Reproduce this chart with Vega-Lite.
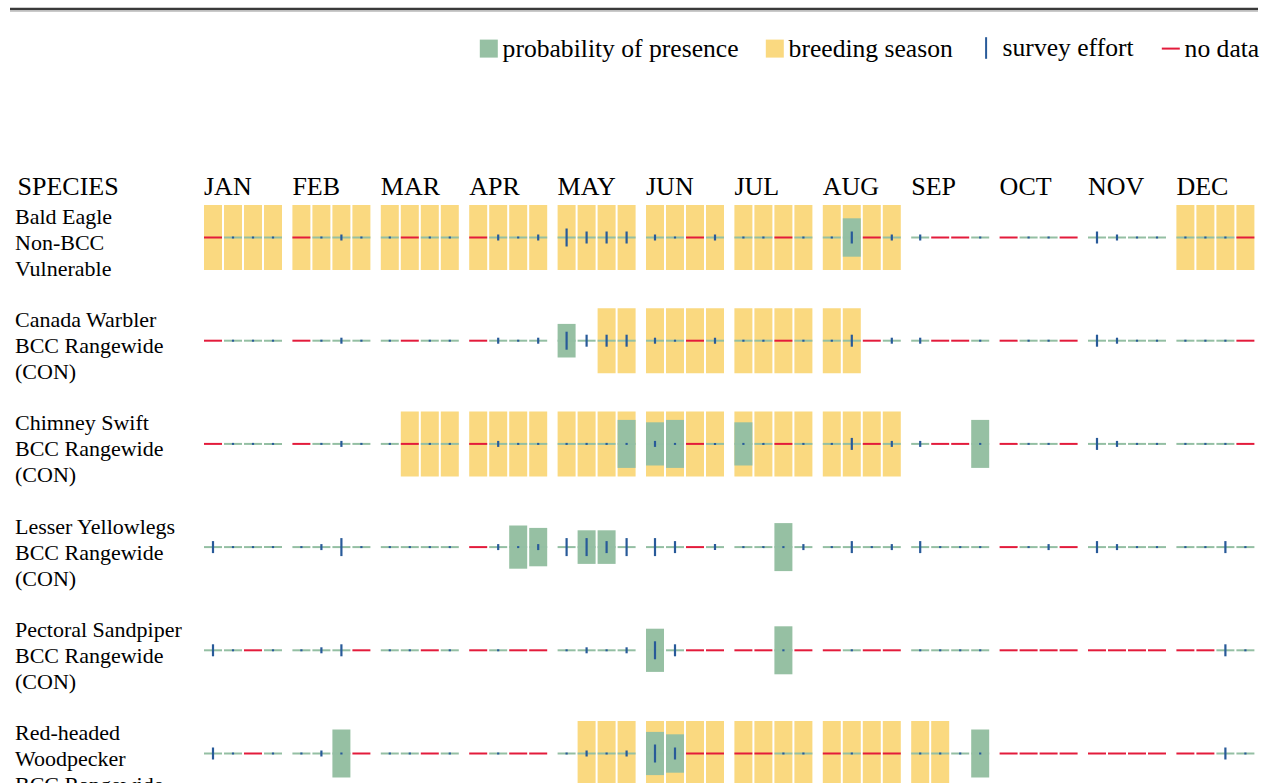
{
  "$schema": "https://vega.github.io/schema/vega-lite/v6.json",
  "background": "white",
  "padding": {"left": 8, "top": 7, "right": 5, "bottom": 0},
  "config": {"view": {"stroke": null}, "font": "Liberation Serif"},
  "spacing": 160,
  "vconcat": [
    {
      "width": 1050.4,
      "height": 4,
      "data": {"values": [{}]},
      "encoding": {
        "x": {"datum": 0, "type": "quantitative", "scale": {"domain": [0, 1], "range": [-194, 1054]}, "axis": null},
        "x2": {"datum": 1},
        "y": {"datum": 1, "type": "quantitative", "scale": {"domain": [0, 1]}, "axis": null}
      },
      "layer": [
        {"mark": {"type": "rule", "color": "#3a3a3a", "strokeWidth": 2.5}},
        {"mark": {"type": "rule", "color": "#b8b8b8", "strokeWidth": 1.5, "yOffset": 2}}
      ]
    },
    {
      "data": {"values": [
        {"sp":"Bald Eagle|Non-BCC|Vulnerable","mo":"JAN","wk":1,"br":1,"nd":1},
        {"sp":"Bald Eagle|Non-BCC|Vulnerable","mo":"JAN","wk":2,"br":1,"ef":1},
        {"sp":"Bald Eagle|Non-BCC|Vulnerable","mo":"JAN","wk":3,"br":1,"ef":1},
        {"sp":"Bald Eagle|Non-BCC|Vulnerable","mo":"JAN","wk":4,"br":1,"ef":1},
        {"sp":"Bald Eagle|Non-BCC|Vulnerable","mo":"FEB","wk":1,"br":1,"nd":1},
        {"sp":"Bald Eagle|Non-BCC|Vulnerable","mo":"FEB","wk":2,"br":1,"ef":1},
        {"sp":"Bald Eagle|Non-BCC|Vulnerable","mo":"FEB","wk":3,"br":1,"ef":3},
        {"sp":"Bald Eagle|Non-BCC|Vulnerable","mo":"FEB","wk":4,"br":1,"ef":1},
        {"sp":"Bald Eagle|Non-BCC|Vulnerable","mo":"MAR","wk":1,"br":1,"ef":1},
        {"sp":"Bald Eagle|Non-BCC|Vulnerable","mo":"MAR","wk":2,"br":1,"nd":1},
        {"sp":"Bald Eagle|Non-BCC|Vulnerable","mo":"MAR","wk":3,"br":1,"ef":1},
        {"sp":"Bald Eagle|Non-BCC|Vulnerable","mo":"MAR","wk":4,"br":1,"ef":1},
        {"sp":"Bald Eagle|Non-BCC|Vulnerable","mo":"APR","wk":1,"br":1,"nd":1},
        {"sp":"Bald Eagle|Non-BCC|Vulnerable","mo":"APR","wk":2,"br":1,"ef":3},
        {"sp":"Bald Eagle|Non-BCC|Vulnerable","mo":"APR","wk":3,"br":1,"ef":1},
        {"sp":"Bald Eagle|Non-BCC|Vulnerable","mo":"APR","wk":4,"br":1,"ef":3},
        {"sp":"Bald Eagle|Non-BCC|Vulnerable","mo":"MAY","wk":1,"br":1,"ef":9},
        {"sp":"Bald Eagle|Non-BCC|Vulnerable","mo":"MAY","wk":2,"br":1,"ef":6},
        {"sp":"Bald Eagle|Non-BCC|Vulnerable","mo":"MAY","wk":3,"br":1,"ef":6},
        {"sp":"Bald Eagle|Non-BCC|Vulnerable","mo":"MAY","wk":4,"br":1,"ef":6},
        {"sp":"Bald Eagle|Non-BCC|Vulnerable","mo":"JUN","wk":1,"br":1,"ef":3},
        {"sp":"Bald Eagle|Non-BCC|Vulnerable","mo":"JUN","wk":2,"br":1,"ef":1},
        {"sp":"Bald Eagle|Non-BCC|Vulnerable","mo":"JUN","wk":3,"br":1,"nd":1},
        {"sp":"Bald Eagle|Non-BCC|Vulnerable","mo":"JUN","wk":4,"br":1,"ef":3},
        {"sp":"Bald Eagle|Non-BCC|Vulnerable","mo":"JUL","wk":1,"br":1,"ef":1},
        {"sp":"Bald Eagle|Non-BCC|Vulnerable","mo":"JUL","wk":2,"br":1,"ef":1},
        {"sp":"Bald Eagle|Non-BCC|Vulnerable","mo":"JUL","wk":3,"br":1,"nd":1},
        {"sp":"Bald Eagle|Non-BCC|Vulnerable","mo":"JUL","wk":4,"br":1,"ef":1},
        {"sp":"Bald Eagle|Non-BCC|Vulnerable","mo":"AUG","wk":1,"br":1,"ef":1},
        {"sp":"Bald Eagle|Non-BCC|Vulnerable","mo":"AUG","wk":2,"br":1,"ef":6,"pr":8},
        {"sp":"Bald Eagle|Non-BCC|Vulnerable","mo":"AUG","wk":3,"br":1,"nd":1},
        {"sp":"Bald Eagle|Non-BCC|Vulnerable","mo":"AUG","wk":4,"br":1,"ef":3},
        {"sp":"Bald Eagle|Non-BCC|Vulnerable","mo":"SEP","wk":1,"ef":3},
        {"sp":"Bald Eagle|Non-BCC|Vulnerable","mo":"SEP","wk":2,"nd":1},
        {"sp":"Bald Eagle|Non-BCC|Vulnerable","mo":"SEP","wk":3,"nd":1},
        {"sp":"Bald Eagle|Non-BCC|Vulnerable","mo":"SEP","wk":4,"ef":1},
        {"sp":"Bald Eagle|Non-BCC|Vulnerable","mo":"OCT","wk":1,"nd":1},
        {"sp":"Bald Eagle|Non-BCC|Vulnerable","mo":"OCT","wk":2,"ef":1},
        {"sp":"Bald Eagle|Non-BCC|Vulnerable","mo":"OCT","wk":3,"ef":1},
        {"sp":"Bald Eagle|Non-BCC|Vulnerable","mo":"OCT","wk":4,"nd":1},
        {"sp":"Bald Eagle|Non-BCC|Vulnerable","mo":"NOV","wk":1,"ef":6},
        {"sp":"Bald Eagle|Non-BCC|Vulnerable","mo":"NOV","wk":2,"ef":3},
        {"sp":"Bald Eagle|Non-BCC|Vulnerable","mo":"NOV","wk":3,"ef":1},
        {"sp":"Bald Eagle|Non-BCC|Vulnerable","mo":"NOV","wk":4,"ef":1},
        {"sp":"Bald Eagle|Non-BCC|Vulnerable","mo":"DEC","wk":1,"br":1,"ef":1},
        {"sp":"Bald Eagle|Non-BCC|Vulnerable","mo":"DEC","wk":2,"br":1,"ef":1},
        {"sp":"Bald Eagle|Non-BCC|Vulnerable","mo":"DEC","wk":3,"br":1,"ef":1},
        {"sp":"Bald Eagle|Non-BCC|Vulnerable","mo":"DEC","wk":4,"br":1,"nd":1},

        {"sp":"Canada Warbler|BCC Rangewide|(CON)","mo":"JAN","wk":1,"nd":1},
        {"sp":"Canada Warbler|BCC Rangewide|(CON)","mo":"JAN","wk":2,"ef":1},
        {"sp":"Canada Warbler|BCC Rangewide|(CON)","mo":"JAN","wk":3,"ef":1},
        {"sp":"Canada Warbler|BCC Rangewide|(CON)","mo":"JAN","wk":4,"ef":1},
        {"sp":"Canada Warbler|BCC Rangewide|(CON)","mo":"FEB","wk":1,"nd":1},
        {"sp":"Canada Warbler|BCC Rangewide|(CON)","mo":"FEB","wk":2,"ef":1},
        {"sp":"Canada Warbler|BCC Rangewide|(CON)","mo":"FEB","wk":3,"ef":3},
        {"sp":"Canada Warbler|BCC Rangewide|(CON)","mo":"FEB","wk":4,"ef":1},
        {"sp":"Canada Warbler|BCC Rangewide|(CON)","mo":"MAR","wk":1,"ef":1},
        {"sp":"Canada Warbler|BCC Rangewide|(CON)","mo":"MAR","wk":2,"nd":1},
        {"sp":"Canada Warbler|BCC Rangewide|(CON)","mo":"MAR","wk":3,"ef":1},
        {"sp":"Canada Warbler|BCC Rangewide|(CON)","mo":"MAR","wk":4,"ef":1},
        {"sp":"Canada Warbler|BCC Rangewide|(CON)","mo":"APR","wk":1,"nd":1},
        {"sp":"Canada Warbler|BCC Rangewide|(CON)","mo":"APR","wk":2,"ef":3},
        {"sp":"Canada Warbler|BCC Rangewide|(CON)","mo":"APR","wk":3,"ef":1},
        {"sp":"Canada Warbler|BCC Rangewide|(CON)","mo":"APR","wk":4,"ef":3},
        {"sp":"Canada Warbler|BCC Rangewide|(CON)","mo":"MAY","wk":1,"ef":9,"pr":7},
        {"sp":"Canada Warbler|BCC Rangewide|(CON)","mo":"MAY","wk":2,"ef":6},
        {"sp":"Canada Warbler|BCC Rangewide|(CON)","mo":"MAY","wk":3,"br":1,"ef":6},
        {"sp":"Canada Warbler|BCC Rangewide|(CON)","mo":"MAY","wk":4,"br":1,"ef":6},
        {"sp":"Canada Warbler|BCC Rangewide|(CON)","mo":"JUN","wk":1,"br":1,"ef":3},
        {"sp":"Canada Warbler|BCC Rangewide|(CON)","mo":"JUN","wk":2,"br":1,"ef":1},
        {"sp":"Canada Warbler|BCC Rangewide|(CON)","mo":"JUN","wk":3,"br":1,"nd":1},
        {"sp":"Canada Warbler|BCC Rangewide|(CON)","mo":"JUN","wk":4,"br":1,"ef":3},
        {"sp":"Canada Warbler|BCC Rangewide|(CON)","mo":"JUL","wk":1,"br":1,"ef":1},
        {"sp":"Canada Warbler|BCC Rangewide|(CON)","mo":"JUL","wk":2,"br":1,"ef":1},
        {"sp":"Canada Warbler|BCC Rangewide|(CON)","mo":"JUL","wk":3,"br":1,"nd":1},
        {"sp":"Canada Warbler|BCC Rangewide|(CON)","mo":"JUL","wk":4,"br":1,"ef":1},
        {"sp":"Canada Warbler|BCC Rangewide|(CON)","mo":"AUG","wk":1,"br":1,"ef":1},
        {"sp":"Canada Warbler|BCC Rangewide|(CON)","mo":"AUG","wk":2,"br":1,"ef":6},
        {"sp":"Canada Warbler|BCC Rangewide|(CON)","mo":"AUG","wk":3,"nd":1},
        {"sp":"Canada Warbler|BCC Rangewide|(CON)","mo":"AUG","wk":4,"ef":3},
        {"sp":"Canada Warbler|BCC Rangewide|(CON)","mo":"SEP","wk":1,"ef":3},
        {"sp":"Canada Warbler|BCC Rangewide|(CON)","mo":"SEP","wk":2,"nd":1},
        {"sp":"Canada Warbler|BCC Rangewide|(CON)","mo":"SEP","wk":3,"nd":1},
        {"sp":"Canada Warbler|BCC Rangewide|(CON)","mo":"SEP","wk":4,"ef":1},
        {"sp":"Canada Warbler|BCC Rangewide|(CON)","mo":"OCT","wk":1,"nd":1},
        {"sp":"Canada Warbler|BCC Rangewide|(CON)","mo":"OCT","wk":2,"ef":1},
        {"sp":"Canada Warbler|BCC Rangewide|(CON)","mo":"OCT","wk":3,"ef":1},
        {"sp":"Canada Warbler|BCC Rangewide|(CON)","mo":"OCT","wk":4,"nd":1},
        {"sp":"Canada Warbler|BCC Rangewide|(CON)","mo":"NOV","wk":1,"ef":6},
        {"sp":"Canada Warbler|BCC Rangewide|(CON)","mo":"NOV","wk":2,"ef":3},
        {"sp":"Canada Warbler|BCC Rangewide|(CON)","mo":"NOV","wk":3,"ef":1},
        {"sp":"Canada Warbler|BCC Rangewide|(CON)","mo":"NOV","wk":4,"ef":1},
        {"sp":"Canada Warbler|BCC Rangewide|(CON)","mo":"DEC","wk":1,"ef":1},
        {"sp":"Canada Warbler|BCC Rangewide|(CON)","mo":"DEC","wk":2,"ef":1},
        {"sp":"Canada Warbler|BCC Rangewide|(CON)","mo":"DEC","wk":3,"ef":1},
        {"sp":"Canada Warbler|BCC Rangewide|(CON)","mo":"DEC","wk":4,"nd":1},

        {"sp":"Chimney Swift|BCC Rangewide|(CON)","mo":"JAN","wk":1,"nd":1},
        {"sp":"Chimney Swift|BCC Rangewide|(CON)","mo":"JAN","wk":2,"ef":1},
        {"sp":"Chimney Swift|BCC Rangewide|(CON)","mo":"JAN","wk":3,"ef":1},
        {"sp":"Chimney Swift|BCC Rangewide|(CON)","mo":"JAN","wk":4,"ef":1},
        {"sp":"Chimney Swift|BCC Rangewide|(CON)","mo":"FEB","wk":1,"nd":1},
        {"sp":"Chimney Swift|BCC Rangewide|(CON)","mo":"FEB","wk":2,"ef":1},
        {"sp":"Chimney Swift|BCC Rangewide|(CON)","mo":"FEB","wk":3,"ef":3},
        {"sp":"Chimney Swift|BCC Rangewide|(CON)","mo":"FEB","wk":4,"ef":1},
        {"sp":"Chimney Swift|BCC Rangewide|(CON)","mo":"MAR","wk":1,"ef":1},
        {"sp":"Chimney Swift|BCC Rangewide|(CON)","mo":"MAR","wk":2,"br":1,"nd":1},
        {"sp":"Chimney Swift|BCC Rangewide|(CON)","mo":"MAR","wk":3,"br":1,"ef":1},
        {"sp":"Chimney Swift|BCC Rangewide|(CON)","mo":"MAR","wk":4,"br":1,"ef":1},
        {"sp":"Chimney Swift|BCC Rangewide|(CON)","mo":"APR","wk":1,"br":1,"nd":1},
        {"sp":"Chimney Swift|BCC Rangewide|(CON)","mo":"APR","wk":2,"br":1,"ef":3},
        {"sp":"Chimney Swift|BCC Rangewide|(CON)","mo":"APR","wk":3,"br":1,"ef":1},
        {"sp":"Chimney Swift|BCC Rangewide|(CON)","mo":"APR","wk":4,"br":1,"ef":1},
        {"sp":"Chimney Swift|BCC Rangewide|(CON)","mo":"MAY","wk":1,"br":1,"ef":1},
        {"sp":"Chimney Swift|BCC Rangewide|(CON)","mo":"MAY","wk":2,"br":1,"ef":1},
        {"sp":"Chimney Swift|BCC Rangewide|(CON)","mo":"MAY","wk":3,"br":1,"ef":1},
        {"sp":"Chimney Swift|BCC Rangewide|(CON)","mo":"MAY","wk":4,"br":1,"ef":1,"pr":10},
        {"sp":"Chimney Swift|BCC Rangewide|(CON)","mo":"JUN","wk":1,"br":1,"ef":3,"pr":9},
        {"sp":"Chimney Swift|BCC Rangewide|(CON)","mo":"JUN","wk":2,"br":1,"ef":1,"pr":10},
        {"sp":"Chimney Swift|BCC Rangewide|(CON)","mo":"JUN","wk":3,"br":1,"nd":1},
        {"sp":"Chimney Swift|BCC Rangewide|(CON)","mo":"JUN","wk":4,"br":1,"ef":1},
        {"sp":"Chimney Swift|BCC Rangewide|(CON)","mo":"JUL","wk":1,"br":1,"ef":1,"pr":9},
        {"sp":"Chimney Swift|BCC Rangewide|(CON)","mo":"JUL","wk":2,"br":1,"ef":1},
        {"sp":"Chimney Swift|BCC Rangewide|(CON)","mo":"JUL","wk":3,"br":1,"nd":1},
        {"sp":"Chimney Swift|BCC Rangewide|(CON)","mo":"JUL","wk":4,"br":1,"ef":1},
        {"sp":"Chimney Swift|BCC Rangewide|(CON)","mo":"AUG","wk":1,"br":1,"ef":1},
        {"sp":"Chimney Swift|BCC Rangewide|(CON)","mo":"AUG","wk":2,"br":1,"ef":6},
        {"sp":"Chimney Swift|BCC Rangewide|(CON)","mo":"AUG","wk":3,"br":1,"nd":1},
        {"sp":"Chimney Swift|BCC Rangewide|(CON)","mo":"AUG","wk":4,"br":1,"ef":3},
        {"sp":"Chimney Swift|BCC Rangewide|(CON)","mo":"SEP","wk":1,"ef":3},
        {"sp":"Chimney Swift|BCC Rangewide|(CON)","mo":"SEP","wk":2,"nd":1},
        {"sp":"Chimney Swift|BCC Rangewide|(CON)","mo":"SEP","wk":3,"nd":1},
        {"sp":"Chimney Swift|BCC Rangewide|(CON)","mo":"SEP","wk":4,"ef":1,"pr":10},
        {"sp":"Chimney Swift|BCC Rangewide|(CON)","mo":"OCT","wk":1,"nd":1},
        {"sp":"Chimney Swift|BCC Rangewide|(CON)","mo":"OCT","wk":2,"ef":1},
        {"sp":"Chimney Swift|BCC Rangewide|(CON)","mo":"OCT","wk":3,"ef":1},
        {"sp":"Chimney Swift|BCC Rangewide|(CON)","mo":"OCT","wk":4,"nd":1},
        {"sp":"Chimney Swift|BCC Rangewide|(CON)","mo":"NOV","wk":1,"ef":6},
        {"sp":"Chimney Swift|BCC Rangewide|(CON)","mo":"NOV","wk":2,"ef":3},
        {"sp":"Chimney Swift|BCC Rangewide|(CON)","mo":"NOV","wk":3,"ef":1},
        {"sp":"Chimney Swift|BCC Rangewide|(CON)","mo":"NOV","wk":4,"ef":1},
        {"sp":"Chimney Swift|BCC Rangewide|(CON)","mo":"DEC","wk":1,"ef":1},
        {"sp":"Chimney Swift|BCC Rangewide|(CON)","mo":"DEC","wk":2,"ef":1},
        {"sp":"Chimney Swift|BCC Rangewide|(CON)","mo":"DEC","wk":3,"ef":1},
        {"sp":"Chimney Swift|BCC Rangewide|(CON)","mo":"DEC","wk":4,"nd":1},

        {"sp":"Lesser Yellowlegs|BCC Rangewide|(CON)","mo":"JAN","wk":1,"ef":6},
        {"sp":"Lesser Yellowlegs|BCC Rangewide|(CON)","mo":"JAN","wk":2,"ef":1},
        {"sp":"Lesser Yellowlegs|BCC Rangewide|(CON)","mo":"JAN","wk":3,"ef":1},
        {"sp":"Lesser Yellowlegs|BCC Rangewide|(CON)","mo":"JAN","wk":4,"ef":1},
        {"sp":"Lesser Yellowlegs|BCC Rangewide|(CON)","mo":"FEB","wk":1,"ef":1},
        {"sp":"Lesser Yellowlegs|BCC Rangewide|(CON)","mo":"FEB","wk":2,"ef":3},
        {"sp":"Lesser Yellowlegs|BCC Rangewide|(CON)","mo":"FEB","wk":3,"ef":9},
        {"sp":"Lesser Yellowlegs|BCC Rangewide|(CON)","mo":"FEB","wk":4,"ef":1},
        {"sp":"Lesser Yellowlegs|BCC Rangewide|(CON)","mo":"MAR","wk":1,"ef":1},
        {"sp":"Lesser Yellowlegs|BCC Rangewide|(CON)","mo":"MAR","wk":2,"ef":1},
        {"sp":"Lesser Yellowlegs|BCC Rangewide|(CON)","mo":"MAR","wk":3,"ef":1},
        {"sp":"Lesser Yellowlegs|BCC Rangewide|(CON)","mo":"MAR","wk":4,"ef":1},
        {"sp":"Lesser Yellowlegs|BCC Rangewide|(CON)","mo":"APR","wk":1,"nd":1},
        {"sp":"Lesser Yellowlegs|BCC Rangewide|(CON)","mo":"APR","wk":2,"ef":3},
        {"sp":"Lesser Yellowlegs|BCC Rangewide|(CON)","mo":"APR","wk":3,"ef":1,"pr":9},
        {"sp":"Lesser Yellowlegs|BCC Rangewide|(CON)","mo":"APR","wk":4,"ef":3,"pr":8},
        {"sp":"Lesser Yellowlegs|BCC Rangewide|(CON)","mo":"MAY","wk":1,"ef":9},
        {"sp":"Lesser Yellowlegs|BCC Rangewide|(CON)","mo":"MAY","wk":2,"ef":9,"pr":7},
        {"sp":"Lesser Yellowlegs|BCC Rangewide|(CON)","mo":"MAY","wk":3,"ef":6,"pr":7},
        {"sp":"Lesser Yellowlegs|BCC Rangewide|(CON)","mo":"MAY","wk":4,"ef":9},
        {"sp":"Lesser Yellowlegs|BCC Rangewide|(CON)","mo":"JUN","wk":1,"ef":9},
        {"sp":"Lesser Yellowlegs|BCC Rangewide|(CON)","mo":"JUN","wk":2,"ef":6},
        {"sp":"Lesser Yellowlegs|BCC Rangewide|(CON)","mo":"JUN","wk":3,"nd":1},
        {"sp":"Lesser Yellowlegs|BCC Rangewide|(CON)","mo":"JUN","wk":4,"ef":3},
        {"sp":"Lesser Yellowlegs|BCC Rangewide|(CON)","mo":"JUL","wk":1,"ef":1},
        {"sp":"Lesser Yellowlegs|BCC Rangewide|(CON)","mo":"JUL","wk":2,"ef":1},
        {"sp":"Lesser Yellowlegs|BCC Rangewide|(CON)","mo":"JUL","wk":3,"ef":1,"pr":10},
        {"sp":"Lesser Yellowlegs|BCC Rangewide|(CON)","mo":"JUL","wk":4,"ef":3},
        {"sp":"Lesser Yellowlegs|BCC Rangewide|(CON)","mo":"AUG","wk":1,"ef":1},
        {"sp":"Lesser Yellowlegs|BCC Rangewide|(CON)","mo":"AUG","wk":2,"ef":6},
        {"sp":"Lesser Yellowlegs|BCC Rangewide|(CON)","mo":"AUG","wk":3,"ef":1},
        {"sp":"Lesser Yellowlegs|BCC Rangewide|(CON)","mo":"AUG","wk":4,"ef":3},
        {"sp":"Lesser Yellowlegs|BCC Rangewide|(CON)","mo":"SEP","wk":1,"ef":6},
        {"sp":"Lesser Yellowlegs|BCC Rangewide|(CON)","mo":"SEP","wk":2,"ef":1},
        {"sp":"Lesser Yellowlegs|BCC Rangewide|(CON)","mo":"SEP","wk":3,"ef":1},
        {"sp":"Lesser Yellowlegs|BCC Rangewide|(CON)","mo":"SEP","wk":4,"ef":1},
        {"sp":"Lesser Yellowlegs|BCC Rangewide|(CON)","mo":"OCT","wk":1,"nd":1},
        {"sp":"Lesser Yellowlegs|BCC Rangewide|(CON)","mo":"OCT","wk":2,"ef":1},
        {"sp":"Lesser Yellowlegs|BCC Rangewide|(CON)","mo":"OCT","wk":3,"ef":3},
        {"sp":"Lesser Yellowlegs|BCC Rangewide|(CON)","mo":"OCT","wk":4,"nd":1},
        {"sp":"Lesser Yellowlegs|BCC Rangewide|(CON)","mo":"NOV","wk":1,"ef":6},
        {"sp":"Lesser Yellowlegs|BCC Rangewide|(CON)","mo":"NOV","wk":2,"ef":3},
        {"sp":"Lesser Yellowlegs|BCC Rangewide|(CON)","mo":"NOV","wk":3,"ef":1},
        {"sp":"Lesser Yellowlegs|BCC Rangewide|(CON)","mo":"NOV","wk":4,"ef":1},
        {"sp":"Lesser Yellowlegs|BCC Rangewide|(CON)","mo":"DEC","wk":1,"ef":1},
        {"sp":"Lesser Yellowlegs|BCC Rangewide|(CON)","mo":"DEC","wk":2,"ef":1},
        {"sp":"Lesser Yellowlegs|BCC Rangewide|(CON)","mo":"DEC","wk":3,"ef":6},
        {"sp":"Lesser Yellowlegs|BCC Rangewide|(CON)","mo":"DEC","wk":4,"ef":1},

        {"sp":"Pectoral Sandpiper|BCC Rangewide|(CON)","mo":"JAN","wk":1,"ef":6},
        {"sp":"Pectoral Sandpiper|BCC Rangewide|(CON)","mo":"JAN","wk":2,"ef":1},
        {"sp":"Pectoral Sandpiper|BCC Rangewide|(CON)","mo":"JAN","wk":3,"nd":1},
        {"sp":"Pectoral Sandpiper|BCC Rangewide|(CON)","mo":"JAN","wk":4,"ef":1},
        {"sp":"Pectoral Sandpiper|BCC Rangewide|(CON)","mo":"FEB","wk":1,"ef":1},
        {"sp":"Pectoral Sandpiper|BCC Rangewide|(CON)","mo":"FEB","wk":2,"ef":3},
        {"sp":"Pectoral Sandpiper|BCC Rangewide|(CON)","mo":"FEB","wk":3,"ef":6},
        {"sp":"Pectoral Sandpiper|BCC Rangewide|(CON)","mo":"FEB","wk":4,"nd":1},
        {"sp":"Pectoral Sandpiper|BCC Rangewide|(CON)","mo":"MAR","wk":1,"ef":1},
        {"sp":"Pectoral Sandpiper|BCC Rangewide|(CON)","mo":"MAR","wk":2,"ef":1},
        {"sp":"Pectoral Sandpiper|BCC Rangewide|(CON)","mo":"MAR","wk":3,"nd":1},
        {"sp":"Pectoral Sandpiper|BCC Rangewide|(CON)","mo":"MAR","wk":4,"ef":1},
        {"sp":"Pectoral Sandpiper|BCC Rangewide|(CON)","mo":"APR","wk":1,"nd":1},
        {"sp":"Pectoral Sandpiper|BCC Rangewide|(CON)","mo":"APR","wk":2,"ef":1},
        {"sp":"Pectoral Sandpiper|BCC Rangewide|(CON)","mo":"APR","wk":3,"nd":1},
        {"sp":"Pectoral Sandpiper|BCC Rangewide|(CON)","mo":"APR","wk":4,"nd":1},
        {"sp":"Pectoral Sandpiper|BCC Rangewide|(CON)","mo":"MAY","wk":1,"ef":1},
        {"sp":"Pectoral Sandpiper|BCC Rangewide|(CON)","mo":"MAY","wk":2,"ef":3},
        {"sp":"Pectoral Sandpiper|BCC Rangewide|(CON)","mo":"MAY","wk":3,"ef":1},
        {"sp":"Pectoral Sandpiper|BCC Rangewide|(CON)","mo":"MAY","wk":4,"ef":3},
        {"sp":"Pectoral Sandpiper|BCC Rangewide|(CON)","mo":"JUN","wk":1,"ef":9,"pr":9},
        {"sp":"Pectoral Sandpiper|BCC Rangewide|(CON)","mo":"JUN","wk":2,"ef":6},
        {"sp":"Pectoral Sandpiper|BCC Rangewide|(CON)","mo":"JUN","wk":3,"nd":1},
        {"sp":"Pectoral Sandpiper|BCC Rangewide|(CON)","mo":"JUN","wk":4,"nd":1},
        {"sp":"Pectoral Sandpiper|BCC Rangewide|(CON)","mo":"JUL","wk":1,"nd":1},
        {"sp":"Pectoral Sandpiper|BCC Rangewide|(CON)","mo":"JUL","wk":2,"nd":1},
        {"sp":"Pectoral Sandpiper|BCC Rangewide|(CON)","mo":"JUL","wk":3,"ef":1,"pr":10},
        {"sp":"Pectoral Sandpiper|BCC Rangewide|(CON)","mo":"JUL","wk":4,"nd":1},
        {"sp":"Pectoral Sandpiper|BCC Rangewide|(CON)","mo":"AUG","wk":1,"nd":1},
        {"sp":"Pectoral Sandpiper|BCC Rangewide|(CON)","mo":"AUG","wk":2,"ef":1},
        {"sp":"Pectoral Sandpiper|BCC Rangewide|(CON)","mo":"AUG","wk":3,"nd":1},
        {"sp":"Pectoral Sandpiper|BCC Rangewide|(CON)","mo":"AUG","wk":4,"nd":1},
        {"sp":"Pectoral Sandpiper|BCC Rangewide|(CON)","mo":"SEP","wk":1,"ef":1},
        {"sp":"Pectoral Sandpiper|BCC Rangewide|(CON)","mo":"SEP","wk":2,"ef":1},
        {"sp":"Pectoral Sandpiper|BCC Rangewide|(CON)","mo":"SEP","wk":3,"ef":1},
        {"sp":"Pectoral Sandpiper|BCC Rangewide|(CON)","mo":"SEP","wk":4,"ef":1},
        {"sp":"Pectoral Sandpiper|BCC Rangewide|(CON)","mo":"OCT","wk":1,"nd":1},
        {"sp":"Pectoral Sandpiper|BCC Rangewide|(CON)","mo":"OCT","wk":2,"nd":1},
        {"sp":"Pectoral Sandpiper|BCC Rangewide|(CON)","mo":"OCT","wk":3,"nd":1},
        {"sp":"Pectoral Sandpiper|BCC Rangewide|(CON)","mo":"OCT","wk":4,"nd":1},
        {"sp":"Pectoral Sandpiper|BCC Rangewide|(CON)","mo":"NOV","wk":1,"nd":1},
        {"sp":"Pectoral Sandpiper|BCC Rangewide|(CON)","mo":"NOV","wk":2,"nd":1},
        {"sp":"Pectoral Sandpiper|BCC Rangewide|(CON)","mo":"NOV","wk":3,"nd":1},
        {"sp":"Pectoral Sandpiper|BCC Rangewide|(CON)","mo":"NOV","wk":4,"nd":1},
        {"sp":"Pectoral Sandpiper|BCC Rangewide|(CON)","mo":"DEC","wk":1,"nd":1},
        {"sp":"Pectoral Sandpiper|BCC Rangewide|(CON)","mo":"DEC","wk":2,"nd":1},
        {"sp":"Pectoral Sandpiper|BCC Rangewide|(CON)","mo":"DEC","wk":3,"ef":6},
        {"sp":"Pectoral Sandpiper|BCC Rangewide|(CON)","mo":"DEC","wk":4,"ef":1},

        {"sp":"Red-headed|Woodpecker|BCC Rangewide|(CON)","mo":"JAN","wk":1,"ef":6},
        {"sp":"Red-headed|Woodpecker|BCC Rangewide|(CON)","mo":"JAN","wk":2,"ef":1},
        {"sp":"Red-headed|Woodpecker|BCC Rangewide|(CON)","mo":"JAN","wk":3,"nd":1},
        {"sp":"Red-headed|Woodpecker|BCC Rangewide|(CON)","mo":"JAN","wk":4,"ef":1},
        {"sp":"Red-headed|Woodpecker|BCC Rangewide|(CON)","mo":"FEB","wk":1,"ef":1},
        {"sp":"Red-headed|Woodpecker|BCC Rangewide|(CON)","mo":"FEB","wk":2,"ef":3},
        {"sp":"Red-headed|Woodpecker|BCC Rangewide|(CON)","mo":"FEB","wk":3,"ef":1,"pr":10},
        {"sp":"Red-headed|Woodpecker|BCC Rangewide|(CON)","mo":"FEB","wk":4,"nd":1},
        {"sp":"Red-headed|Woodpecker|BCC Rangewide|(CON)","mo":"MAR","wk":1,"ef":1},
        {"sp":"Red-headed|Woodpecker|BCC Rangewide|(CON)","mo":"MAR","wk":2,"ef":1},
        {"sp":"Red-headed|Woodpecker|BCC Rangewide|(CON)","mo":"MAR","wk":3,"nd":1},
        {"sp":"Red-headed|Woodpecker|BCC Rangewide|(CON)","mo":"MAR","wk":4,"ef":1},
        {"sp":"Red-headed|Woodpecker|BCC Rangewide|(CON)","mo":"APR","wk":1,"nd":1},
        {"sp":"Red-headed|Woodpecker|BCC Rangewide|(CON)","mo":"APR","wk":2,"ef":1},
        {"sp":"Red-headed|Woodpecker|BCC Rangewide|(CON)","mo":"APR","wk":3,"nd":1},
        {"sp":"Red-headed|Woodpecker|BCC Rangewide|(CON)","mo":"APR","wk":4,"nd":1},
        {"sp":"Red-headed|Woodpecker|BCC Rangewide|(CON)","mo":"MAY","wk":1,"ef":1},
        {"sp":"Red-headed|Woodpecker|BCC Rangewide|(CON)","mo":"MAY","wk":2,"br":1,"ef":3},
        {"sp":"Red-headed|Woodpecker|BCC Rangewide|(CON)","mo":"MAY","wk":3,"br":1,"ef":1},
        {"sp":"Red-headed|Woodpecker|BCC Rangewide|(CON)","mo":"MAY","wk":4,"br":1,"ef":3},
        {"sp":"Red-headed|Woodpecker|BCC Rangewide|(CON)","mo":"JUN","wk":1,"br":1,"ef":9,"pr":9},
        {"sp":"Red-headed|Woodpecker|BCC Rangewide|(CON)","mo":"JUN","wk":2,"br":1,"ef":6,"pr":8},
        {"sp":"Red-headed|Woodpecker|BCC Rangewide|(CON)","mo":"JUN","wk":3,"br":1,"nd":1},
        {"sp":"Red-headed|Woodpecker|BCC Rangewide|(CON)","mo":"JUN","wk":4,"br":1,"nd":1},
        {"sp":"Red-headed|Woodpecker|BCC Rangewide|(CON)","mo":"JUL","wk":1,"br":1,"nd":1},
        {"sp":"Red-headed|Woodpecker|BCC Rangewide|(CON)","mo":"JUL","wk":2,"br":1,"nd":1},
        {"sp":"Red-headed|Woodpecker|BCC Rangewide|(CON)","mo":"JUL","wk":3,"br":1,"ef":1},
        {"sp":"Red-headed|Woodpecker|BCC Rangewide|(CON)","mo":"JUL","wk":4,"br":1,"ef":1},
        {"sp":"Red-headed|Woodpecker|BCC Rangewide|(CON)","mo":"AUG","wk":1,"br":1,"nd":1},
        {"sp":"Red-headed|Woodpecker|BCC Rangewide|(CON)","mo":"AUG","wk":2,"br":1,"ef":1},
        {"sp":"Red-headed|Woodpecker|BCC Rangewide|(CON)","mo":"AUG","wk":3,"br":1,"nd":1},
        {"sp":"Red-headed|Woodpecker|BCC Rangewide|(CON)","mo":"AUG","wk":4,"br":1,"nd":1},
        {"sp":"Red-headed|Woodpecker|BCC Rangewide|(CON)","mo":"SEP","wk":1,"br":1,"ef":1},
        {"sp":"Red-headed|Woodpecker|BCC Rangewide|(CON)","mo":"SEP","wk":2,"br":1,"ef":1},
        {"sp":"Red-headed|Woodpecker|BCC Rangewide|(CON)","mo":"SEP","wk":3,"ef":1},
        {"sp":"Red-headed|Woodpecker|BCC Rangewide|(CON)","mo":"SEP","wk":4,"ef":1,"pr":10},
        {"sp":"Red-headed|Woodpecker|BCC Rangewide|(CON)","mo":"OCT","wk":1,"nd":1},
        {"sp":"Red-headed|Woodpecker|BCC Rangewide|(CON)","mo":"OCT","wk":2,"nd":1},
        {"sp":"Red-headed|Woodpecker|BCC Rangewide|(CON)","mo":"OCT","wk":3,"nd":1},
        {"sp":"Red-headed|Woodpecker|BCC Rangewide|(CON)","mo":"OCT","wk":4,"nd":1},
        {"sp":"Red-headed|Woodpecker|BCC Rangewide|(CON)","mo":"NOV","wk":1,"nd":1},
        {"sp":"Red-headed|Woodpecker|BCC Rangewide|(CON)","mo":"NOV","wk":2,"nd":1},
        {"sp":"Red-headed|Woodpecker|BCC Rangewide|(CON)","mo":"NOV","wk":3,"nd":1},
        {"sp":"Red-headed|Woodpecker|BCC Rangewide|(CON)","mo":"NOV","wk":4,"nd":1},
        {"sp":"Red-headed|Woodpecker|BCC Rangewide|(CON)","mo":"DEC","wk":1,"nd":1},
        {"sp":"Red-headed|Woodpecker|BCC Rangewide|(CON)","mo":"DEC","wk":2,"nd":1},
        {"sp":"Red-headed|Woodpecker|BCC Rangewide|(CON)","mo":"DEC","wk":3,"ef":6},
        {"sp":"Red-headed|Woodpecker|BCC Rangewide|(CON)","mo":"DEC","wk":4,"ef":1}
      ]},
      "facet": {
        "row": {
          "field": "sp", "type": "nominal", "title": null,
          "sort": ["Bald Eagle|Non-BCC|Vulnerable", "Canada Warbler|BCC Rangewide|(CON)", "Chimney Swift|BCC Rangewide|(CON)", "Lesser Yellowlegs|BCC Rangewide|(CON)", "Pectoral Sandpiper|BCC Rangewide|(CON)", "Red-headed|Woodpecker|BCC Rangewide|(CON)"],
          "header": {
            "labelOrient": "left", "labelAngle": 0, "labelAlign": "left", "labelAnchor": "end", "labelBaseline": "line-top",
            "labelFont": "Liberation Serif", "labelFontSize": 22, "labelColor": "black", "labelLineHeight": 26,
            "labelPadding": 2, "labelLimit": 0,
            "labelExpr": "split(datum.value + '|\u200b                                  \u200b', '|')"
          }
        }
      },
      "spacing": {"row": 38.2},
      "spec": {
        "width": 1050.4,
        "height": 65,
        "encoding": {
          "x": {
            "field": "mo", "type": "ordinal",
            "sort": ["JAN", "FEB", "MAR", "APR", "MAY", "JUN", "JUL", "AUG", "SEP", "OCT", "NOV", "DEC"],
            "scale": {"paddingInner": 0.1176, "paddingOuter": 0},
            "axis": {
              "orient": "top", "title": "SPECIES", "labelAlign": "left", "labelBaseline": "alphabetic",
              "labelPadding": 11, "labelOffset": -39, "labelFont": "Liberation Serif", "labelFontSize": 26, "labelColor": "black",
              "domain": false, "ticks": false, "grid": false, "labelOverlap": false, "labelBound": false, "labelAngle": 0,
              "titleFont": "Liberation Serif", "titleFontSize": 26, "titleFontWeight": "normal", "titleColor": "black",
              "titleAngle": 0, "titleAlign": "left", "titleBaseline": "alphabetic", "titleX": -187, "titleY": -11
            }
          },
          "xOffset": {"field": "wk", "type": "ordinal", "scale": {"paddingInner": 0.1, "paddingOuter": 0}}
        },
        "layer": [
          {
            "transform": [{"filter": "datum.br == 1"}],
            "mark": {"type": "bar", "opacity": 1},
            "encoding": {
              "y": {"datum": -1, "type": "quantitative", "scale": {"domain": [-1, 1]}, "axis": null},
              "y2": {"datum": 1},
              "color": {
                "datum": "breeding season", "type": "nominal",
                "scale": {"domain": ["probability of presence", "breeding season", "survey effort", "no data"], "range": ["#96c0a3", "#fad980", "#285a99", "#e31b3b"]},
                "legend": {
                  "orient": "none", "legendX": 272, "legendY": 26, "direction": "horizontal", "title": null,
                  "symbolType": "square", "symbolSize": 324, "symbolStrokeWidth": 0, "symbolOpacity": 1,
                  "labelFont": "Liberation Serif", "labelFontSize": 25.6, "labelColor": "black", "labelOffset": 1,
                  "columnPadding": 23, "labelLimit": 0,
                  "encode": {"symbols": {"update": {
                    "shape": {"signal": "datum.value === 'survey effort' ? 'M-0.3,-1.2L-0.3,1.2' : datum.value === 'no data' ? 'stroke' : 'square'"},
                    "stroke": {"signal": "datum.value === 'survey effort' ? '#285a99' : datum.value === 'no data' ? '#e31b3b' : null"},
                    "strokeWidth": {"signal": "datum.value === 'survey effort' || datum.value === 'no data' ? 2 : 0"}
                  }}}
                }
              }
            }
          },
          {
            "transform": [{"filter": "datum.pr > 0"}],
            "mark": {"type": "tick", "orient": "vertical", "thickness": 18, "opacity": 1},
            "encoding": {
              "y": {"datum": 0, "type": "quantitative"},
              "size": {"field": "pr", "type": "quantitative", "scale": {"domain": [0, 10], "range": [0, 48]}, "legend": null},
              "color": {"datum": "probability of presence", "type": "nominal"}
            }
          },
          {
            "transform": [{"filter": "!datum.nd"}],
            "mark": {"type": "tick", "orient": "horizontal", "thickness": 2, "size": 18, "color": "#94bfa3", "opacity": 1},
            "encoding": {"y": {"datum": 0, "type": "quantitative"}}
          },
          {
            "transform": [{"filter": "datum.nd == 1"}],
            "mark": {"type": "tick", "orient": "horizontal", "thickness": 2, "size": 18, "opacity": 1},
            "encoding": {"y": {"datum": 0, "type": "quantitative"}, "color": {"datum": "no data", "type": "nominal"}}
          },
          {
            "transform": [{"filter": "datum.ef > 0"}],
            "mark": {"type": "tick", "orient": "vertical", "thickness": 2.2, "opacity": 1},
            "encoding": {
              "y": {"datum": 0, "type": "quantitative"},
              "size": {"field": "ef", "type": "quantitative", "scale": {"domain": [0, 9], "range": [0, 18]}, "legend": null},
              "color": {"datum": "survey effort", "type": "nominal"}
            }
          }
        ],
        "resolve": {"scale": {"size": "independent"}}
      }
    }
  ]
}
